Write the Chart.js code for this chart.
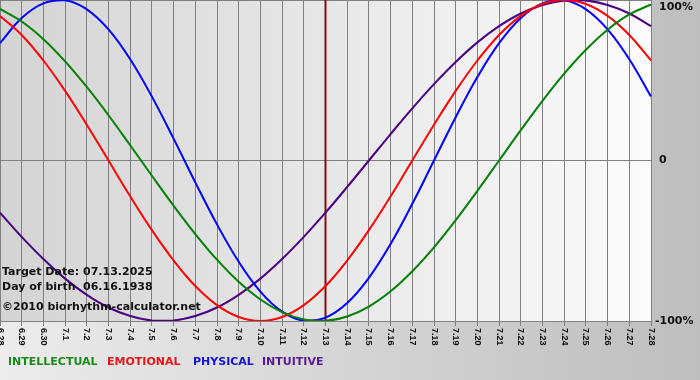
<!DOCTYPE html>
<html>
<head>
<meta charset="utf-8">
<script src="https://cdn.jsdelivr.net/npm/chart.js@4.4.1/dist/chart.umd.min.js"></script>
<style>
  html, body { margin: 0; padding: 0; background: #c8c8c8; }
  canvas { display: block; }
</style>
</head>
<body>
<canvas id="bioChart" width="700" height="380"></canvas>
<script>
// days shown on the x axis
var days = ['6.28','6.29','6.30','7.1','7.2','7.3','7.4','7.5','7.6','7.7','7.8','7.9','7.10','7.11','7.12',
            '7.13','7.14','7.15','7.16','7.17','7.18','7.19','7.20','7.21','7.22','7.23','7.24','7.25','7.26','7.27','7.28'];

// cycle values in percent, one per day
var intellectual = [94.5, 86.6, 75.6, 61.8, 45.8, 28.2, 9.5, -9.5, -28.2, -45.8, -61.8, -75.6, -86.6, -94.5, -99.0,
                    -99.9, -97.2, -91.0, -81.5, -69.0, -54.1, -37.2, -18.9, 0, 18.9, 37.2, 54.1, 69.0, 81.5, 91.0, 97.2];
var emotional    = [90.1, 78.2, 62.3, 43.4, 22.3, 0, -22.3, -43.4, -62.3, -78.2, -90.1, -97.5, -100, -97.5, -90.1,
                    -78.2, -62.3, -43.4, -22.3, 0, 22.3, 43.4, 62.3, 78.2, 90.1, 97.5, 100, 97.5, 90.1, 78.2, 62.3];
var physical     = [73.1, 88.8, 97.9, 99.8, 94.2, 81.7, 63.1, 39.8, 13.6, -13.6, -39.8, -63.1, -81.7, -94.2, -99.8,
                    -97.9, -88.8, -73.1, -52.0, -27.0, 0, 27.0, 52.0, 73.1, 88.8, 97.9, 99.8, 94.2, 81.7, 63.1, 39.8];
var intuitive    = [-32.5, -47.6, -61.4, -73.6, -83.7, -91.6, -96.9, -99.7, -99.7, -96.9, -91.6, -83.7, -73.6, -61.4, -47.6,
                    -32.5, -16.5, 0, 16.5, 32.5, 47.6, 61.4, 73.6, 83.7, 91.6, 96.9, 99.7, 99.7, 96.9, 91.6, 83.7];

var yTickValues = [100, 0, -100];
var yTickLabels = ['100%', '0', '-100%'];
var targetDay = '7.13';
var targetDate = '07.13.2025';
var birthDate = '06.16.1938';
var copyright = '\u00a92010 biorhythm-calculator.net';
var seriesNames = ['INTELLECTUAL', 'EMOTIONAL', 'PHYSICAL', 'INTUITIVE'];

var lineColors = ['#008000', '#ff0000', '#0000ff', '#4b0082'];
var legendColors = ['#1a8a1a', '#e8141a', '#1414d2', '#5a1a8c'];
var legendX = [8, 107, 193, 262];

var bioPlugin = {
  id: 'bio',
  beforeDraw: function(chart) {
    var ctx = chart.ctx, a = chart.chartArea;
    ctx.save();
    var g = ctx.createLinearGradient(0, 0, chart.width, 0);
    g.addColorStop(0, '#ececec');
    g.addColorStop(1, '#bebebe');
    ctx.fillStyle = g;
    ctx.fillRect(0, 0, chart.width, chart.height);
    var g2 = ctx.createLinearGradient(a.left, 0, a.right, 0);
    g2.addColorStop(0, '#d4d4d4');
    g2.addColorStop(1, '#fbfbfb');
    ctx.fillStyle = g2;
    ctx.fillRect(a.left, a.top, a.right - a.left, a.bottom - a.top);
    ctx.restore();
  },
  beforeDatasetsDraw: function(chart) {
    var ctx = chart.ctx, a = chart.chartArea;
    var x = chart.scales.x.getPixelForValue(days.indexOf(targetDay));
    ctx.save();
    ctx.strokeStyle = '#7a1010';
    ctx.lineWidth = 2;
    ctx.beginPath();
    ctx.moveTo(x, a.top);
    ctx.lineTo(x, a.bottom);
    ctx.stroke();
    ctx.restore();
  },
  afterDraw: function(chart) {
    var ctx = chart.ctx, a = chart.chartArea;
    var xs = chart.scales.x, ys = chart.scales.y;
    ctx.save();
    // rotated day labels
    ctx.fillStyle = '#111';
    ctx.font = 'bold 9px "Liberation Sans"';
    ctx.textAlign = 'left';
    ctx.textBaseline = 'middle';
    for (var i = 0; i < days.length; i++) {
      var x = xs.getPixelForTick(i);
      ctx.save();
      ctx.translate(x, a.bottom + 7);
      ctx.rotate(Math.PI / 2);
      ctx.fillText(days[i], 0, 0);
      ctx.restore();
    }
    // percent labels on the right
    ctx.fillStyle = '#111';
    ctx.font = 'bold 11px "DejaVu Sans"';
    for (var j = 0; j < yTickValues.length; j++) {
      var y = Math.max(ys.getPixelForValue(yTickValues[j]), 7);
      var tx = a.right + 8 - (yTickLabels[j].charAt(0) === '-' ? 4 : 0);
      ctx.fillText(yTickLabels[j], tx, y);
    }
    // info text
    ctx.fillText('Target Date:', 2, 272);
    ctx.fillText(targetDate, 83, 272);
    ctx.fillText('Day of birth', 2, 287);
    ctx.fillText(birthDate, 83, 287);
    ctx.fillText(copyright, 2, 307);
    // legend
    for (var k = 0; k < seriesNames.length; k++) {
      ctx.fillStyle = legendColors[k];
      ctx.fillText(seriesNames[k], legendX[k], 362);
    }
    ctx.restore();
  }
};

function makeSet(label, data, color) {
  return {
    label: label,
    data: data,
    borderColor: color,
    borderWidth: 2,
    pointRadius: 0,
    fill: false,
    tension: 0.4
  };
}

var ctx = document.getElementById('bioChart');
var bioChart = new Chart(ctx, {
  type: 'line',
  data: {
    labels: days,
    datasets: [
      makeSet(seriesNames[0], intellectual, lineColors[0]),
      makeSet(seriesNames[1], emotional, lineColors[1]),
      makeSet(seriesNames[2], physical, lineColors[2]),
      makeSet(seriesNames[3], intuitive, lineColors[3])
    ]
  },
  options: {
    responsive: false,
    animation: false,
    events: [],
    layout: { padding: 0 },
    plugins: {
      legend: { display: false },
      tooltip: { enabled: false }
    },
    scales: {
      x: {
        grid: { color: '#808080', lineWidth: 1, tickLength: 5, drawTicks: true },
        border: { color: '#808080' },
        ticks: { display: false },
        afterFit: function(scale) { scale.height = 59; }
      },
      y: {
        position: 'right',
        min: -100,
        max: 100,
        grid: { color: '#808080', lineWidth: 1, drawTicks: false },
        border: { color: '#808080' },
        ticks: { display: false, stepSize: 100 },
        afterFit: function(scale) { scale.width = 49; }
      }
    }
  },
  plugins: [bioPlugin]
});
</script>
</body>
</html>
